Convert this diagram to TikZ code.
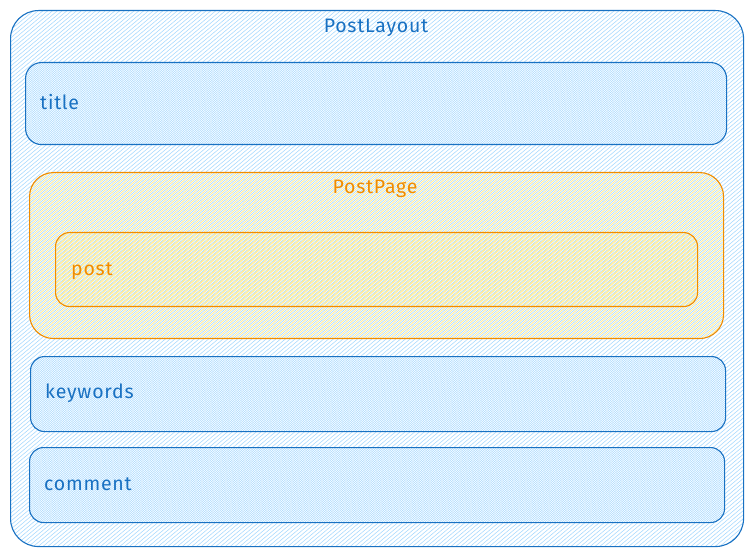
\documentclass[tikz,border=0pt]{standalone}
\usepackage{fontspec}
\setmainfont{Fira Sans}[LetterSpace=4]
\definecolor{bstroke}{HTML}{1971C2}
\definecolor{bfill}{HTML}{A5D8FF}
\definecolor{ostroke}{HTML}{F08C00}
\definecolor{ofill}{HTML}{FFEC99}
\tikzset{
  hatch/.style n args={3}{path picture={
    \foreach \k in {0,...,300}{
      \draw[#1, line width=#2] ([xshift=\k*4.8pt-650pt+#3]hatchorigin) -- ++(40:980pt);
    }}},
  bluebox/.style={draw=bstroke, line width=1.1pt, inner sep=0pt, anchor=north west},
  orangebox/.style={draw=ostroke, line width=1.1pt, inner sep=0pt, anchor=north west},
  blab/.style={text=bstroke, font=\fontsize{19.5}{22}\selectfont, inner sep=0pt},
  olab/.style={text=ostroke, font=\fontsize{19.5}{22}\selectfont, inner sep=0pt},
}
\begin{document}
\begin{tikzpicture}[x=1pt,y=-1pt]
\path[use as bounding box] (0,0) rectangle (753,556);
\coordinate (hatchorigin) at (0,556);
\node[bluebox, hatch={bfill}{0.55pt}{0pt}, rounded corners=28pt, minimum width=733pt, minimum height=536pt] (layout) at (10,10) {};
\node[bluebox, hatch={bfill}{0.55pt}{2.4pt}, rounded corners=16pt, minimum width=701pt, minimum height=82pt] (title) at (25,62) {};
\node[orangebox, hatch={ofill}{0.8pt}{2.4pt}, rounded corners=24pt, minimum width=694pt, minimum height=166pt] (page) at (29,172) {};
\node[orangebox, hatch={ofill}{0.7pt}{1.2pt}, rounded corners=14pt, minimum width=642pt, minimum height=74pt] (post) at (55,232) {};
\node[bluebox, hatch={bfill}{0.55pt}{2.4pt}, rounded corners=14pt, minimum width=695pt, minimum height=75pt] (keywords) at (30,356) {};
\node[bluebox, hatch={bfill}{0.55pt}{2.4pt}, rounded corners=14pt, minimum width=695pt, minimum height=75pt] (comment) at (29,447) {};
\node[blab, anchor=base] (layoutlab) at (376,33) {PostLayout};
\node[blab, anchor=base west] (titlelab) at (40,110) {title};
\node[olab, anchor=base] (pagelab) at (375,194) {PostPage};
\node[olab, anchor=base west] (postlab) at (71,276) {post};
\node[blab, anchor=base west] (keywordslab) at (45,399) {keywords};
\node[blab, anchor=base west] (commentlab) at (44,490) {comment};
\end{tikzpicture}
\end{document}
